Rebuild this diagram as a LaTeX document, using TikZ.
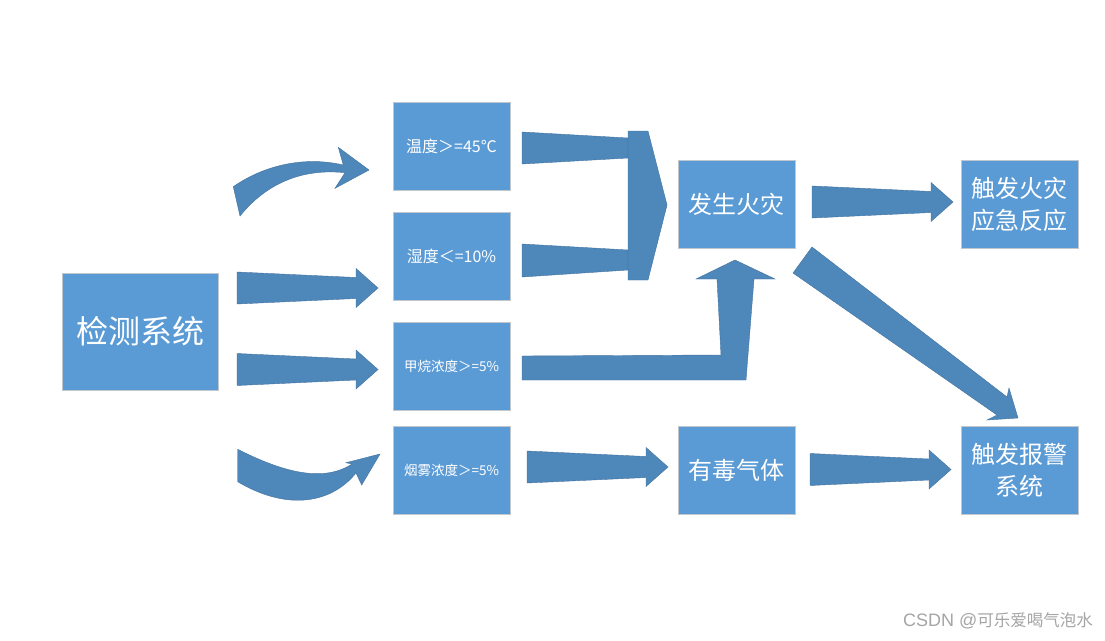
\documentclass[tikz,border=0pt]{standalone}
\usepackage{fontspec}
\setmainfont{Noto Sans CJK SC}
\newfontfamily\latinsans{Liberation Sans}
\definecolor{boxfill}{RGB}{91,155,213}
\definecolor{boxedge}{RGB}{192,199,207}
\definecolor{arrowfill}{RGB}{78,135,186}
\definecolor{arrowedge}{RGB}{66,114,158}
\definecolor{markgray}{RGB}{165,165,165}
\begin{document}
\begin{tikzpicture}[x=1pt,y=-1pt,
  box/.style={draw=boxedge, line width=1pt, fill=boxfill, text=white,
    inner sep=0pt, minimum width=117pt, minimum height=88pt, align=center},
  smalltext/.style={font=\fontsize{16}{18}\selectfont},
  tinytext/.style={font=\fontsize{13.5}{16}\selectfont},
  bigtext/.style={font=\fontsize{24}{32}\selectfont},
  blockarrow/.style={fill=arrowfill, draw=arrowedge, line width=0.4pt, line join=miter},
  % straight block arrow with a slightly tapering shaft
  flat arrow/.pic={\path[blockarrow] (0,-16) -- (119,-10.5) -- (119,-19.5) -- (141,0)
      -- (119,19.5) -- (119,10.5) -- (0,16) -- cycle;}
]
\useasboundingbox (0,0) rectangle (1105,640);
\fill[white] (0,0) rectangle (1105,640);

% boxes
\node[box, minimum width=156pt, minimum height=117pt,
      font=\fontsize{32}{36}\selectfont] (detect) at (140,331.5) {检测系统};
\node[box, smalltext] (temp)    at (451.5,146)   {温度＞=45℃};
\node[box, smalltext] (humid)   at (451.5,256.5) {湿度＜=10\%};
\node[box, tinytext]  (methane) at (451.5,366.5) {甲烷浓度＞=5\%};
\node[box, tinytext]  (smoke)   at (451.5,470)   {烟雾浓度＞=5\%};
\node[box, bigtext] (fire)     at (736.5,204.5) {发生火灾};
\node[box, bigtext] (response) at (1019.5,204.5) {触发火灾\\应急反应};
\node[box, bigtext] (toxic)    at (736.5,470)   {有毒气体};
\node[box, bigtext] (alarm)    at (1019.5,470)  {触发报警\\系统};

% detection system -> sensors
\path[blockarrow] (233.3,186.7) .. controls (260,168) and (300,155) .. (343.3,165)
  -- (338.3,147.3) -- (369,170) -- (335,188.3) -- (345,172.7)
  .. controls (300,168) and (265,185) .. (240,216) -- cycle;
\pic at (237,288) {flat arrow};
\pic at (237,369.5) {flat arrow};
\path[blockarrow] (237.7,449.3) .. controls (275,468) and (320,485) .. (352,464)
  -- (346,462.7) -- (380,454) -- (361.7,485) -- (356,473)
  .. controls (330,505) and (285,510) .. (237.7,481.7) -- cycle;

% temperature and humidity merge into fire
\path[blockarrow] (522,132) -- (628,138) -- (628,158) -- (522,164) -- cycle;
\path[blockarrow] (522,244) -- (628,250) -- (628,270) -- (522,277) -- cycle;
\path[blockarrow] (628,131) -- (648,131) -- (667,205) -- (648,280) -- (628,280) -- cycle;

% methane -> fire
\path[blockarrow] (522,356) -- (721,355) -- (717,279) -- (696,279) -- (735,260)
  -- (775,279) -- (754,279) -- (746,380) -- (522,380) -- cycle;

% fire -> response, fire -> alarm
\pic at (812,202) {flat arrow};
\path[blockarrow] (812,247) -- (1007,397) -- (1009,388) -- (1018,418) -- (987,420)
  -- (997,415) -- (793,273) -- cycle;

% smoke -> toxic gas -> alarm
\pic at (527,467) {flat arrow};
\pic at (810,469.5) {flat arrow};

% watermark
\node[anchor=east, text=markgray, inner sep=0pt,
      font=\fontsize{16.5}{18}\selectfont] (mark) at (1093,621)
  {{\latinsans\fontsize{18}{18}\selectfont CSDN @}可乐爱喝气泡水};
\end{tikzpicture}
\end{document}
